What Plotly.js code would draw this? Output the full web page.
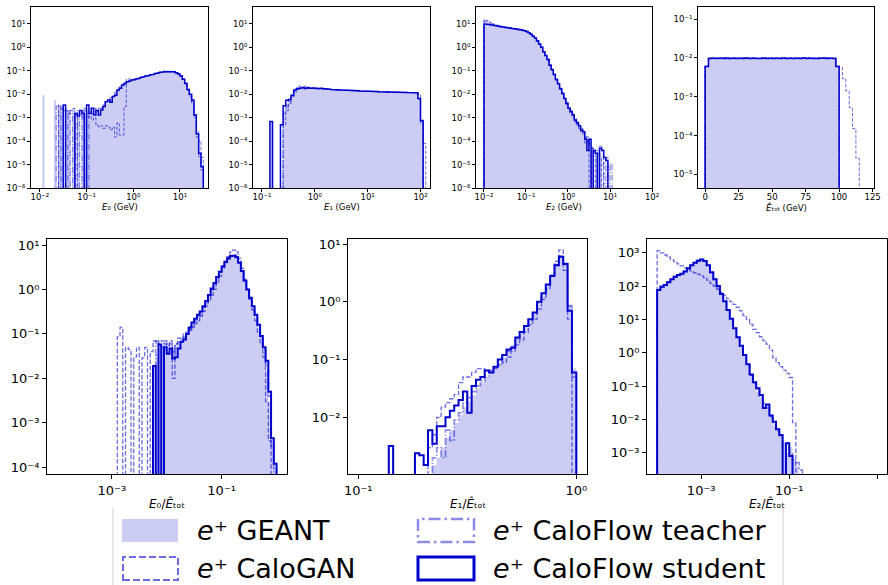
<!DOCTYPE html>
<html><head><meta charset="utf-8">
<script src="https://cdn.plot.ly/plotly-3.0.1.min.js"></script>
<style>html,body{margin:0;padding:0;background:#fff}#chart{width:888px;height:585px}</style>
</head><body><div id="chart"></div>
<script>
// ---------------- DATA ----------------
// Panel 1: E0 (GeV), log bins start 10^-2, width 0.05 decade, 70 bins
const S1 = [0,0,0,0,0, 0,0,0,0,0, 3.5e-3,0,0,0,0, 1.5e-3,1.2e-3,2e-3,1.5e-3,0, 3.5e-3,1.5e-3,2.5e-3,1.3e-3,2e-3, 1.3e-3,2.1e-3,3e-3,4.8e-3,5.6e-3, 4.5e-3,7.9e-3,9e-3,1.5e-2,1.8e-2, 2.5e-2,2.9e-2,3.4e-2,3.7e-2,4e-2, 4.2e-2,4.5e-2,4.8e-2,5.2e-2,5.6e-2, 6e-2,6.3e-2,6.6e-2,7e-2,7.5e-2, 8e-2,8.4e-2,8.8e-2,9.2e-2,9.4e-2, 9.5e-2,9.4e-2,9.1e-2,8.3e-2,7.3e-2, 6e-2,4.3e-2,2.9e-2,1.6e-2,1e-2, 5.6e-3,1.3e-3,2e-4,3e-5,8e-6];
const G1 = [0,9e-3,0,0,0, 0,5.5e-3,0,3.5e-3,3e-3, 0,2.5e-3,2e-3,0,2.5e-3, 0,1.8e-3,0,2.2e-3,1.5e-3, 2e-3,1.2e-3,2e-3,2.5e-3,1.5e-3, 2e-3,3e-3,3.5e-3,4e-3,6e-3, 6.5e-3,8.5e-3,1.1e-2,1.4e-2,2e-2, 2.6e-2,3e-2,3.3e-2,3.6e-2,3.9e-2, 4.2e-2,4.5e-2,4.8e-2,5.2e-2,5.5e-2, 5.9e-2,6.3e-2,6.7e-2,7.1e-2,7.6e-2, 8e-2,8.5e-2,8.9e-2,9.2e-2,9.4e-2, 9.4e-2,9.3e-2,9e-2,8.2e-2,7.2e-2, 5.9e-2,4.2e-2,2.8e-2,1.6e-2,9e-3, 5e-3,1.2e-3,2.2e-4,3e-5,1e-5];
const C1 = [0,0,0,0,0, 0,0,0,3.5e-3,2.5e-3, 2e-3,2e-3,1.5e-3,2e-3,2.5e-3, 0,1e-3,1.5e-3,1e-3,2e-3, 1e-3,1.2e-3,8e-4,1e-3,5e-4, 4e-4,4.5e-4,3.5e-4,4.5e-4,4e-4, 3e-4,4e-4,1.5e-4,6e-4,1.8e-4, 1.8e-4,3e-3,4.5e-2,4.7e-2,4.4e-2, 4.3e-2,4.5e-2,4.8e-2,5.1e-2,5.5e-2, 5.9e-2,6.3e-2,6.8e-2,7.2e-2,7.7e-2, 8.2e-2,8.6e-2,9e-2,9.3e-2,9.5e-2, 9.5e-2,9.4e-2,9.1e-2,8.4e-2,7.5e-2, 6.2e-2,4.5e-2,3e-2,1.5e-2,8e-3, 4e-3,1e-3,1.5e-4,1e-4,2e-5];
const T1 = [0,0,0,0,0, 0,0,3e-3,0,2.5e-3, 2e-3,0,2e-3,0,1.5e-3, 0,2e-3,0,1.2e-3,2.5e-3, 0,2e-3,1.5e-3,2.5e-3,1.8e-3, 2.5e-3,2.5e-3,3.5e-3,5e-3,5e-3, 7e-3,8e-3,1.2e-2,1.4e-2,2e-2, 2.5e-2,3e-2,3.4e-2,3.6e-2,3.9e-2, 4.2e-2,4.4e-2,4.8e-2,5.2e-2,5.6e-2, 5.9e-2,6.3e-2,6.7e-2,7.1e-2,7.5e-2, 8e-2,8.4e-2,8.8e-2,9.1e-2,9.3e-2, 9.4e-2,9.3e-2,9e-2,8.2e-2,7.2e-2, 5.9e-2,4.3e-2,2.9e-2,1.6e-2,9.5e-3, 5e-3,1.3e-3,2.5e-4,2e-5,6e-6];

// Panel 2: E1 (GeV), log bins start 10^-0.85, width 0.05 decade, 59 bins
const S2 = [6.8e-4,0,0,0,5e-4, 3.2e-3,5.5e-3,6e-3,9e-3,1.5e-2, 1.7e-2,1.8e-2,1.9e-2,1.75e-2,1.9e-2, 1.8e-2,1.85e-2,1.8e-2,1.75e-2,1.78e-2, 1.7e-2,1.72e-2,1.65e-2,1.6e-2,1.62e-2, 1.55e-2,1.52e-2,1.5e-2,1.5e-2,1.45e-2, 1.45e-2,1.42e-2,1.4e-2,1.4e-2,1.38e-2, 1.36e-2,1.35e-2,1.33e-2,1.32e-2,1.3e-2, 1.3e-2,1.28e-2,1.27e-2,1.26e-2,1.25e-2, 1.24e-2,1.23e-2,1.22e-2,1.21e-2,1.2e-2, 1.2e-2,1.19e-2,1.18e-2,1.17e-2,1.16e-2, 1.15e-2,6.5e-3,7.5e-4,0];
const G2 = [6.8e-4,0,0,0,0, 2e-3,4e-3,6e-3,9e-3,1.3e-2, 1.6e-2,1.7e-2,1.8e-2,1.8e-2,1.8e-2, 1.75e-2,1.8e-2,1.76e-2,1.74e-2,1.7e-2, 1.72e-2,1.66e-2,1.63e-2,1.6e-2,1.58e-2, 1.55e-2,1.5e-2,1.52e-2,1.47e-2,1.46e-2, 1.43e-2,1.42e-2,1.4e-2,1.38e-2,1.37e-2, 1.36e-2,1.34e-2,1.33e-2,1.31e-2,1.3e-2, 1.29e-2,1.28e-2,1.27e-2,1.25e-2,1.25e-2, 1.24e-2,1.22e-2,1.22e-2,1.21e-2,1.2e-2, 1.19e-2,1.19e-2,1.18e-2,1.17e-2,1.16e-2, 1.14e-2,6e-3,7e-4,0];
const C2 = [0,0,0,0,0, 5e-4,2e-3,4e-3,8e-3,1.3e-2, 1.9e-2,2.2e-2,2.3e-2,2.2e-2,2e-2, 1.8e-2,1.75e-2,1.72e-2,1.7e-2,1.68e-2, 1.66e-2,1.64e-2,1.6e-2,1.58e-2,1.55e-2, 1.53e-2,1.5e-2,1.48e-2,1.46e-2,1.44e-2, 1.42e-2,1.4e-2,1.4e-2,1.38e-2,1.36e-2, 1.35e-2,1.34e-2,1.32e-2,1.31e-2,1.3e-2, 1.29e-2,1.28e-2,1.27e-2,1.26e-2,1.25e-2, 1.24e-2,1.23e-2,1.22e-2,1.21e-2,1.2e-2, 1.2e-2,1.19e-2,1.18e-2,1.17e-2,1.16e-2, 1.15e-2,1e-2,7e-4,8e-5];
const T2 = [0,0,0,0,0, 1.5e-3,3e-3,5e-3,8e-3,1.2e-2, 1.6e-2,1.8e-2,2e-2,1.9e-2,1.8e-2, 1.7e-2,1.75e-2,1.73e-2,1.7e-2,1.69e-2, 1.67e-2,1.64e-2,1.62e-2,1.6e-2,1.57e-2, 1.54e-2,1.52e-2,1.5e-2,1.47e-2,1.45e-2, 1.43e-2,1.41e-2,1.4e-2,1.38e-2,1.37e-2, 1.35e-2,1.34e-2,1.33e-2,1.31e-2,1.3e-2, 1.29e-2,1.28e-2,1.27e-2,1.26e-2,1.25e-2, 1.24e-2,1.23e-2,1.22e-2,1.21e-2,1.2e-2, 1.2e-2,1.19e-2,1.18e-2,1.17e-2,1.16e-2, 1.15e-2,6e-3,6e-4,0];

// Panel 3: E2 (GeV), log bins start 10^-2, width 0.05 decade, 62 bins
const S3 = [10,9.6,9.3,9.0,8.7, 8.4,8.1,7.8,7.6,7.3, 7.0,6.8,6.6,6.4,6.2, 6.0,5.8,5.6,5.4,5.1, 4.7,4.2,3.6,3.0,2.5, 1.9,1.4,1.0,0.65,0.45, 0.3,0.17,0.11,0.07,0.042, 0.028,0.017,0.011,6.5e-3,4e-3, 2.5e-3,1.8e-3,1.3e-3,8e-4,6e-4, 4.5e-4,3e-4,2.5e-4,1.2e-4,4e-5, 1.2e-4,0,4e-5,3e-5,0, 5e-5,4e-5,2e-5,1.5e-5,0, 0,0];
const G3 = [10.5,9.8,9.4,9.1,8.8, 8.5,8.2,7.9,7.6,7.4, 7.1,6.9,6.6,6.4,6.2, 6.0,5.8,5.6,5.4,5.0, 4.6,4.1,3.5,2.9,2.4, 1.85,1.35,0.95,0.64,0.44, 0.29,0.18,0.11,0.068,0.043, 0.027,0.017,0.011,6.8e-3,4.2e-3, 2.7e-3,1.9e-3,1.2e-3,9e-4,6e-4, 4e-4,3e-4,2e-4,1.5e-4,1e-4, 4e-5,6e-5,0,2e-5,0, 3e-5,0,0,0,0, 0,0];
const C3 = [15,14,12.5,11,10, 9.3,8.6,8.0,7.6,7.3, 7.0,6.8,6.5,6.3,6.1, 5.9,5.7,5.5,5.3,5.0, 4.6,4.1,3.5,2.9,2.4, 1.8,1.3,0.95,0.62,0.42, 0.28,0.17,0.11,0.068,0.04, 0.026,0.016,0.01,6e-3,3.8e-3, 2.4e-3,1.6e-3,1.1e-3,7e-4,5e-4, 3.5e-4,2.5e-4,2e-4,8e-5,1.5e-4, 0,5e-5,4e-5,0,3e-5, 0,2e-5,0,0,0, 0,0];
const T3 = [13,12,11,10,9.3, 8.8,8.3,7.9,7.6,7.3, 7.0,6.8,6.6,6.4,6.2, 6.0,5.8,5.6,5.4,5.1, 4.7,4.2,3.6,3.0,2.5, 1.9,1.4,1.0,0.66,0.46, 0.31,0.18,0.12,0.072,0.045, 0.029,0.018,0.012,7e-3,4.5e-3, 2.8e-3,2e-3,1.4e-3,9e-4,6.5e-4, 4.5e-4,3.5e-4,2.5e-4,1.5e-4,1e-4, 8e-5,5e-5,3e-5,4e-5,0, 6e-5,5e-5,0,2e-5,0, 1.1e-5,0];

// Panel 4: E_tot (GeV), linear bins from 0, width 2.5 GeV, 50 bins
const S4 = [6e-3, 9.7e-3,9.8e-3,9.6e-3,9.8e-3,9.7e-3,9.9e-3,9.6e-3,9.8e-3,9.7e-3,9.8e-3, 9.6e-3,9.9e-3,9.7e-3,9.8e-3,9.6e-3,9.7e-3,9.9e-3,9.7e-3,9.8e-3,9.6e-3, 9.8e-3,9.7e-3,9.9e-3,9.6e-3,9.8e-3,9.7e-3,9.8e-3,9.6e-3,9.9e-3,9.7e-3, 9.8e-3,9.7e-3,9.6e-3,9.8e-3,9.9e-3,9.7e-3,9.8e-3,9.7e-3, 6e-3, 0,0,0,0,0,0,0,0,0,0];
const G4 = [6e-3, 9.8e-3,9.7e-3,9.8e-3,9.6e-3,9.9e-3,9.7e-3,9.8e-3,9.6e-3,9.8e-3,9.7e-3, 9.9e-3,9.7e-3,9.6e-3,9.8e-3,9.8e-3,9.6e-3,9.7e-3,9.9e-3,9.7e-3,9.8e-3, 9.6e-3,9.8e-3,9.7e-3,9.8e-3,9.6e-3,9.9e-3,9.7e-3,9.8e-3,9.7e-3,9.6e-3, 9.8e-3,9.9e-3,9.7e-3,9.7e-3,9.8e-3,9.6e-3,9.8e-3,9.8e-3, 6e-3, 0,0,0,0,0,0,0,0,0,0];
const C4 = [6e-3, 9.9e-3,1.01e-2,9.8e-3,9.9e-3,1.02e-2,9.8e-3,9.9e-3,1.0e-2,9.8e-3,9.9e-3, 1.01e-2,9.8e-3,9.9e-3,1.0e-2,9.7e-3,9.9e-3,1.0e-2,9.8e-3,9.9e-3,1.01e-2, 9.8e-3,9.9e-3,1.0e-2,9.8e-3,9.9e-3,1.0e-2,9.8e-3,9.9e-3,1.01e-2,9.9e-3, 1.02e-2,1.0e-2,9.9e-3,1.01e-2,9.9e-3,1.0e-2,9.8e-3,9.9e-3, 6e-3,5.6e-3,2.9e-3,1.4e-3,5.2e-4,1.5e-4,2.6e-5, 0,0,0,0];
const T4 = [6.1e-3, 9.8e-3,9.7e-3,9.8e-3,9.7e-3,9.8e-3,9.6e-3,9.8e-3,9.7e-3,9.8e-3,9.9e-3, 9.7e-3,9.8e-3,9.8e-3,9.6e-3,9.7e-3,9.8e-3,9.8e-3,9.7e-3,9.7e-3,9.8e-3, 9.7e-3,9.8e-3,9.8e-3,9.7e-3,9.7e-3,9.8e-3,9.9e-3,9.7e-3,9.8e-3,9.8e-3, 9.7e-3,9.8e-3,9.8e-3,9.7e-3,9.8e-3,9.8e-3,9.7e-3,9.8e-3, 6.1e-3, 0,0,0,0,0,0,0,0,0,0];

// Panel 5: E0/E_tot, log bins start 10^-3.1, width 0.05 decade, 62 bins
const S5 = [0,0,0,0,0, 0,0,0,0,0, 0,0,0,0,0, 0,0,0.019,0,0.058, 0,0.05,0.036,0.047,0.028, 0.03,0.047,0.067,0.075,0.1, 0.14,0.18,0.22,0.27,0.32, 0.42,0.55,0.75,1.05,1.4, 1.9,2.5,3.3,4.2,5.0, 5.6,5.8,5.3,4.0,2.6, 1.6,1.0,0.65,0.42,0.27, 0.16,0.09,0.05,0.025,5e-3, 4.5e-4,1.2e-4];
const G5 = [0,0,0,0,0, 0,0,0,0,0, 0,0,0,0,0, 0,0,0,0.035,0.045, 0.05,0.06,0.04,0.045,0.05, 0.055,0.06,0.07,0.08,0.1, 0.13,0.17,0.21,0.26,0.32, 0.4,0.52,0.72,1.0,1.35, 1.85,2.5,3.3,4.3,5.2, 5.9,6.0,5.4,4.1,2.6, 1.55,0.95,0.6,0.38,0.24, 0.14,0.08,0.04,0.015,3e-3, 4e-4,1e-4];
const C5 = [0,0,0,0,0.087, 0.14,0,0.05,0.045,0, 0.03,0.05,0,0.029,0.05, 0,0.04,0.07,0.06,0.065, 0.07,0.06,0.055,0.07,0.01, 0.06,0.08,0.085,0.1,0.11, 0.12,0.14,0.17,0.2,0.25, 0.32,0.42,0.55,0.75,1.0, 1.4,2.0,2.9,4.0,5.5, 7.0,7.7,7.0,5.0,3.0, 1.7,1.0,0.6,0.35,0.2, 0.11,0.06,0.03,3e-3,4e-4, 0,0];
const T5 = [0,0,0,0,0, 0,0,0,0,0, 0,0,0,0,0, 0,0,0,0.07,0.06, 0.05,0.07,0.05,0.06,0.04, 0.06,0.065,0.075,0.085,0.1, 0.13,0.16,0.2,0.25,0.31, 0.4,0.52,0.72,1.0,1.35, 1.85,2.5,3.3,4.3,5.2, 5.8,6.0,5.5,4.2,2.7, 1.6,1.0,0.62,0.4,0.25, 0.15,0.085,0.045,0.02,4e-3, 3e-4,0];

// Panel 6: E1/E_tot, log bins start 10^-0.86, width 0.02 decade, 43 bins
const S6 = [3.2e-3,0,0,0,0, 0,2.4e-3,2.2e-3,1.5e-3,6e-3, 3.5e-3,7e-3,7e-3,1e-2,1.3e-2, 1.6e-2,2e-2,2.8e-2,1.2e-2,3.5e-2, 4.5e-2,5e-2,6.5e-2,6e-2,7.5e-2, 0.1,0.12,0.15,0.16,0.24, 0.3,0.38,0.5,0.65,1.0, 1.4,2.0,2.8,4.3,6.0, 4.5,0.7,0.06];
const G6 = [0,0,0,0,0, 0,0,0,0,0, 1.5e-3,2e-3,3e-3,4.5e-3,6e-3, 8e-3,1.1e-2,1.5e-2,1.9e-2,2.4e-2, 3.2e-2,4e-2,5e-2,6e-2,7.5e-2, 9e-2,0.11,0.14,0.17,0.22, 0.28,0.36,0.47,0.62,0.9, 1.3,1.9,2.8,4.2,5.8, 4.8,0.9,0.07];
const C6 = [0,0,0,0,0, 0,0,0,0,3e-3, 5e-3,1e-2,1.5e-2,1.8e-2,2.1e-2, 2.5e-2,4e-2,5e-2,5e-2,6e-2, 7e-2,7e-2,6.5e-2,6.5e-2,7e-2, 8e-2,9e-2,0.11,0.14,0.18, 0.22,0.3,0.4,0.5,0.75, 1.1,1.7,2.8,5.0,7.9, 3.5,0.5,0];
const T6 = [0,0,0,0,0, 0,0,0,0,0, 2e-3,3e-3,2e-3,6e-3,4e-3, 9e-3,1.2e-2,1.8e-2,2.2e-2,2.8e-2, 3.5e-2,4.2e-2,5.2e-2,6e-2,7.5e-2, 9.5e-2,0.12,0.14,0.17,0.23, 0.29,0.37,0.48,0.63,0.95, 1.35,1.95,2.9,4.4,6.2, 4.6,0.85,0.05];

// Panel 7: E2/E_tot, log bins start 10^-4, width 0.075 decade, 44 bins
const S7 = [76,95,107,130,160, 190,215,235,270,340, 420,500,570,620,560, 420,260,160,100,58, 35,19,10.5,5.4,2.9, 1.6,0.85,0.45,0.22,0.13, 0.085,0.054,0.022,0.028,0.013, 8.5e-3,5e-3,3.4e-3,0,1.9e-3, 8e-4,0,0,0];
const G7 = [80,100,115,135,165, 195,220,240,280,345, 430,510,580,620,550, 410,255,155,95,55, 33,18,10,5.2,2.8, 1.5,0.8,0.42,0.22,0.12, 0.07,0.045,0.025,0.02,0.012, 7e-3,4.5e-3,3e-3,2e-3,1e-3, 1.5e-3,6e-4,4e-4,0];
const C7 = [1150,990,850,730,620, 540,460,400,350,310, 280,250,225,200,180, 150,120,100,80,65, 52,42,34,28,23, 18,13,10,7,5, 4,3,2.3,1.8,1.2, 0.7,0.5,0.38,0.3,0.24, 0.18,8e-3,0,0];
const T7 = [78,98,110,132,162, 192,218,238,275,340, 425,505,575,615,555, 415,258,158,98,57, 34,18.5,10,5.3,2.9, 1.55,0.83,0.44,0.21,0.12, 0.08,0.05,0.03,0.022,0.012, 8e-3,4.5e-3,3.2e-3,1.2e-3,2e-3, 1e-3,6e-4,5e-4,3e-4];

// bin definitions: [first edge (log10 or linear), bin width, log?]
const BINS = [[-2,0.05,true],[-0.85,0.05,true],[-2,0.05,true],[0,2.5,false],[-3.1,0.05,true],[-0.86,0.02,true],[-4,0.075,true]];
const SERIES = [[G1,C1,T1,S1],[G2,C2,T2,S2],[G3,C3,T3,S3],[G4,C4,T4,S4],[G5,C5,T5,S5],[G6,C6,T6,S6],[G7,C7,T7,S7]];
const SERIES_NAMES = ['e+ GEANT','e+ CaloGAN','e+ CaloFlow teacher','e+ CaloFlow student'];
const LEGEND_LABELS = ['<i>e</i>\u207a GEANT','<i>e</i>\u207a CaloGAN','<i>e</i>\u207a CaloFlow teacher','<i>e</i>\u207a CaloFlow student'];
const XTITLES = ['<i>E</i>\u2080 (GeV)','<i>E</i>\u2081 (GeV)','<i>E</i>\u2082 (GeV)','<i>\u00ca</i>\u209c\u2092\u209c (GeV)',
  '<i>E</i>\u2080/<i>\u00ca</i>\u209c\u2092\u209c','<i>E</i>\u2081/<i>\u00ca</i>\u209c\u2092\u209c','<i>E</i>\u2082/<i>\u00ca</i>\u209c\u2092\u209c'];
const XTICK_EXP = [[-2,-1,0,1],[-1,0,1,2],[-2,-1,0,1,2],null,[-3,-1],[-1,0],[-3,-1,1]];
const XTICK_LIN = [0,25,50,75,100,125];
const YTICK_EXP = [[-6,-5,-4,-3,-2,-1,0,1],[-6,-5,-4,-3,-2,-1,0,1],[-6,-5,-4,-3,-2,-1,0,1],[-5,-4,-3,-2,-1],[-4,-3,-2,-1,0,1],[-2,-1,0,1],[-3,-2,-1,0,1,2,3]];

// ---------------- LAYOUT / STYLE ----------------
const W = 888, H = 585;
const BOX = [[31,208,7,188],[253,430,7,188],[476,652,7,188],[698,874,7,188],[47,287,239,474],[348,587,239,474],[647,887,239,474]];
const XR = [[-2.19,1.6],[-1.17,2.18],[-2.19,2.0],[-5.3,126],[-4.18,0.19],[-1.047,0.049],[-4.23,1.22]];
const YR = [[-6,1.72],[-6,1.72],[-6,1.72],[-5.35,-0.69],[-4.15,1.135],[-2.98,1.087],[-3.64,3.41]];
const TITLE_Y = [207, 503];
const FONT = 'DejaVu Sans, Verdana, sans-serif';
const C_STU = '#0000cd', C_GAN = 'rgba(0,0,205,0.58)', C_TEA = 'rgba(0,0,205,0.45)', C_FILL = 'rgba(0,0,205,0.2)';
const FLOOR = 1e-12;
const SUP = {'0':'\u2070','1':'\u00b9','2':'\u00b2','3':'\u00b3','4':'\u2074','5':'\u2075','6':'\u2076','7':'\u2077','8':'\u2078','9':'\u2079','-':'\u207b'};
const pw = n => '10' + String(n).split('').map(c => SUP[c]).join('');

function edgesOf(b, n) {
  const e = [];
  for (let i = 0; i <= n; i++) e.push(b[2] ? Math.pow(10, b[0] + b[1] * i) : b[0] + b[1] * i);
  return e;
}
function stepPath(edges, vals) {
  const x = [edges[0]], y = [FLOOR];
  for (let i = 0; i < vals.length; i++) {
    const v = vals[i] > 0 ? vals[i] : FLOOR;
    x.push(edges[i], edges[i + 1]); y.push(v, v);
  }
  x.push(edges[vals.length]); y.push(FLOOR);
  return {x, y};
}

const traces = [];
const layout = {
  width: W, height: H, margin: {l: 0, r: 0, t: 0, b: 0},
  paper_bgcolor: '#fff', plot_bgcolor: '#fff', showlegend: false,
  font: {family: FONT, color: '#000'}, shapes: [], annotations: []
};
const py = v => 1 - v / H, px = v => v / W;

for (let p = 0; p < 7; p++) {
  const top = p < 4;
  const n = SERIES[p][0].length;
  const edges = edgesOf(BINS[p], n);
  const xa = 'x' + (p + 1), ya = 'y' + (p + 1);
  const lw = top ? 1 : 1.3;
  const styles = [
    {fill: true},
    {color: C_GAN, width: lw, dash: top ? '3.5px,1.6px' : '4.5px,2px'},
    {color: C_TEA, width: lw * 1.3, dash: top ? '6px,1.6px,1px,1.6px' : '7px,2px,1.3px,2px'},
    {color: C_STU, width: top ? 1.5 : 2, dash: 'solid'}
  ];
  SERIES[p].forEach((vals, s) => {
    const path = stepPath(edges, vals);
    const st = styles[s];
    const tr = {type: 'scatter', mode: 'lines', x: path.x, y: path.y, xaxis: xa, yaxis: ya,
      name: SERIES_NAMES[s], hoverinfo: 'skip'};
    if (st.fill) { tr.fill = 'toself'; tr.fillcolor = C_FILL; tr.line = {width: 0, color: C_FILL}; }
    else tr.line = {color: st.color, width: st.width, dash: st.dash};
    traces.push(tr);
  });
  const b = BOX[p];
  const tf = top ? 8.5 : 12;
  const common = {showline: true, mirror: true, linecolor: '#000', linewidth: 1, ticks: 'outside',
    ticklen: top ? 3 : 4, tickwidth: 1, tickcolor: '#000', showgrid: false, zeroline: false,
    tickfont: {family: FONT, size: top ? 8.5 : 13, color: '#000'}, fixedrange: true};
  const xax = Object.assign({}, common, {domain: [b[0] / W, b[1] / W], anchor: ya, range: XR[p]});
  if (top) xax.ticklabelstandoff = -2;
  if (BINS[p][2]) {
    xax.type = 'log'; xax.tickmode = 'array';
    xax.tickvals = XTICK_EXP[p].map(e => Math.pow(10, e)); xax.ticktext = XTICK_EXP[p].map(pw);
  } else {
    xax.type = 'linear'; xax.tickmode = 'array'; xax.tickvals = XTICK_LIN; xax.ticktext = XTICK_LIN.map(String);
  }
  const yax = Object.assign({}, common, {
    domain: [1 - b[3] / H, 1 - b[2] / H], anchor: xa, type: 'log', range: YR[p],
    tickmode: 'array', tickvals: YTICK_EXP[p].map(e => Math.pow(10, e)), ticktext: YTICK_EXP[p].map(pw)
  });
  layout['xaxis' + (p === 0 ? '' : p + 1)] = xax;
  layout['yaxis' + (p === 0 ? '' : p + 1)] = yax;
  // x-axis title, centred under its panel
  layout.annotations.push({xref: 'paper', yref: 'paper', x: px((b[0] + b[1]) / 2), y: py(TITLE_Y[top ? 0 : 1]),
    xanchor: 'center', yanchor: 'middle', text: XTITLES[p], showarrow: false,
    font: {family: FONT, size: tf, color: '#000'}});
}

// legend (drawn manually, matplotlib style patches)
const LEG = [
  {x0: 122, x1: 178, y0: 519, y1: 542, tx: 195, ty: 530},
  {x0: 123, x1: 178, y0: 557, y1: 580, tx: 195, ty: 568},
  {x0: 418, x1: 474, y0: 519, y1: 542, tx: 491, ty: 530},
  {x0: 418, x1: 474, y0: 557, y1: 580, tx: 491, ty: 568}
];
const LEG_STYLE = [
  {fillcolor: C_FILL, line: {width: 0}},
  {fillcolor: 'rgba(0,0,0,0)', line: {color: C_GAN, width: 2, dash: '7px,3px'}},
  {fillcolor: 'rgba(0,0,0,0)', line: {color: C_TEA, width: 2.5, dash: '12px,4px,2.5px,4px'}},
  {fillcolor: 'rgba(0,0,0,0)', line: {color: C_STU, width: 3}}
];
layout.shapes.push({type: 'line', xref: 'paper', yref: 'paper', x0: px(113), x1: px(113), y0: py(508), y1: 0, line: {color: '#d0d0d0', width: 1}});
layout.shapes.push({type: 'line', xref: 'paper', yref: 'paper', x0: px(783), x1: px(783), y0: py(508), y1: 0, line: {color: '#d0d0d0', width: 1}});
LEG.forEach((g, i) => {
  layout.shapes.push(Object.assign({type: 'rect', xref: 'paper', yref: 'paper', x0: px(g.x0), x1: px(g.x1), y0: py(g.y1), y1: py(g.y0)}, LEG_STYLE[i]));
  layout.annotations.push({xref: 'paper', yref: 'paper', x: px(g.tx), y: py(g.ty), xanchor: 'left', yanchor: 'middle',
    text: LEGEND_LABELS[i], showarrow: false, font: {family: FONT, size: 27, color: '#000'}});
});

Plotly.newPlot('chart', traces, layout, {displayModeBar: false, staticPlot: true});
</script></body></html>
